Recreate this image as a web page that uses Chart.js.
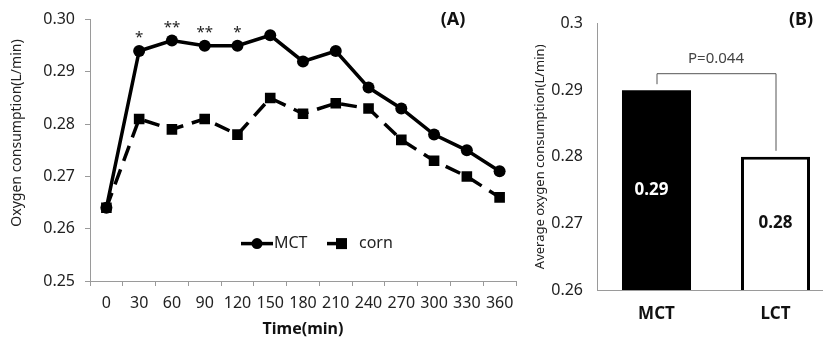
<!DOCTYPE html>
<html>
<head>
<meta charset="utf-8">
<script src="https://cdn.jsdelivr.net/npm/chart.js@4.4.1/dist/chart.umd.min.js"></script>
<style>
  html, body { margin: 0; padding: 0; background: #fff; overflow: hidden; width: 823px; height: 341px; }
  #wrapA { position: absolute; left: 0; top: 0; width: 530px; height: 341px; }
  #wrapB { position: absolute; left: 520px; top: 0; width: 315px; height: 341px; }
</style>
</head>
<body>
<div id="wrapA"><canvas id="chartA"></canvas></div>
<div id="wrapB"><canvas id="chartB"></canvas></div>
<script>
// panel A - time course
const times = ['0', '30', '60', '90', '120', '150', '180', '210', '240', '270', '300', '330', '360'];
const mctValues = [0.264, 0.294, 0.296, 0.295, 0.295, 0.297, 0.292, 0.294, 0.287, 0.283, 0.278, 0.275, 0.271];
const cornValues = [0.264, 0.281, 0.279, 0.281, 0.278, 0.285, 0.282, 0.284, 0.283, 0.277, 0.273, 0.270, 0.266];
const stars = ['', '*', '**', '**', '*', '', '', '', '', '', '', '', ''];

// panel B - averages
const groups = ['MCT', 'LCT'];
const avgValues = [0.29, 0.28];
const pText = 'P=0.044';

const FONT = "'Noto Sans', 'Open Sans', sans-serif";
Chart.defaults.font.family = FONT;
Chart.defaults.color = '#222';
const AXIS = '#9a9a9a';

const extrasA = {
  id: 'extrasA',
  afterDatasetsDraw(chart) {
    const ctx = chart.ctx;
    const ca = chart.chartArea;
    const pts = chart.getDatasetMeta(0).data;
    ctx.save();
    // significance stars
    ctx.fillStyle = '#222';
    ctx.font = '15px ' + FONT;
    ctx.textAlign = 'center';
    ctx.textBaseline = 'middle';
    stars.forEach((s, i) => {
      if (s) ctx.fillText(s, pts[i].x, pts[i].y - 13);
    });

    // legend
    const ly = ca.top + 224;
    const lx = ca.left + 151;
    ctx.strokeStyle = '#000';
    ctx.fillStyle = '#000';
    ctx.lineWidth = 3.5;
    ctx.beginPath(); ctx.moveTo(lx, ly); ctx.lineTo(lx + 32, ly); ctx.stroke();
    ctx.beginPath(); ctx.arc(lx + 16, ly, 5.5, 0, Math.PI * 2); ctx.fill();
    ctx.font = '16px ' + FONT;
    ctx.textAlign = 'left';
    ctx.fillStyle = '#222';
    ctx.fillText('MCT', lx + 33, ly);
    ctx.fillStyle = '#000';
    ctx.beginPath(); ctx.moveTo(lx + 86, ly); ctx.lineTo(lx + 100, ly); ctx.stroke();
    ctx.fillRect(lx + 95, ly - 5.5, 11, 11);
    ctx.fillStyle = '#222';
    ctx.fillText('corn', lx + 118, ly);

    // panel letter
    ctx.font = 'bold 18px ' + FONT;
    ctx.textAlign = 'center';
    ctx.fillStyle = '#111';
    ctx.fillText('(A)', 453, 20);

    // y title
    ctx.translate(17, 133);
    ctx.rotate(-Math.PI / 2);
    ctx.font = '14px ' + FONT;
    ctx.fillStyle = '#222';
    ctx.fillText('Oxygen consumption(L/min)', 0, 0);
    ctx.restore();
  }
};

new Chart(document.getElementById('chartA'), {
  type: 'line',
  data: {
    labels: times,
    datasets: [
      {
        label: 'MCT',
        data: mctValues,
        borderColor: '#000',
        backgroundColor: '#000',
        borderWidth: 3.5,
        pointStyle: 'circle',
        pointRadius: 6,
        pointBackgroundColor: '#000',
        pointBorderWidth: 0,
        tension: 0
      },
      {
        label: 'corn',
        data: cornValues,
        borderColor: '#000',
        backgroundColor: '#000',
        borderWidth: 3.5,
        borderDash: [16, 9],
        pointStyle: 'rect',
        pointRadius: 7.5,
        pointBackgroundColor: '#000',
        pointBorderWidth: 0,
        tension: 0
      }
    ]
  },
  options: {
    responsive: true,
    maintainAspectRatio: false,
    animation: false,
    devicePixelRatio: 1,
    layout: { padding: { left: 0, right: 14, top: 17, bottom: 0 } },
    plugins: { legend: { display: false }, tooltip: { enabled: false } },
    scales: {
      x: {
        offset: true,
        grid: { display: true, drawOnChartArea: false, offset: true, tickLength: 5, color: AXIS },
        border: { color: AXIS },
        ticks: { font: { size: 16 }, padding: 8, maxRotation: 0, autoSkip: false, color: '#222' },
        title: { display: true, text: 'Time(min)', font: { size: 16, weight: 'bold' }, padding: { top: 0, bottom: 2 }, color: '#111' },
        afterFit(scale) { scale.height = 60; }
      },
      y: {
        min: 0.25,
        max: 0.30,
        grid: { display: true, drawOnChartArea: false, tickLength: 5, color: AXIS },
        border: { color: AXIS },
        ticks: { stepSize: 0.01, font: { size: 16 }, padding: 10, color: '#222', callback: v => v.toFixed(2) },
        afterFit(scale) { scale.width = 90; }
      }
    }
  },
  plugins: [extrasA]
});

const extrasB = {
  id: 'extrasB',
  afterDatasetsDraw(chart) {
    const ctx = chart.ctx;
    const bars = chart.getDatasetMeta(0).data;
    const bottom = chart.scales.y.getPixelForValue(chart.scales.y.min);
    ctx.save();
    // values inside bars
    ctx.font = 'bold 17px ' + FONT;
    ctx.textAlign = 'center';
    ctx.textBaseline = 'middle';
    bars.forEach((b, i) => {
      ctx.fillStyle = i === 0 ? '#fff' : '#111';
      ctx.fillText(avgValues[i].toFixed(2), b.x - (i === 0 ? 5 : 0), (b.y + bottom) / 2);
    });

    // significance bracket
    const topY = Math.min(bars[0].y, bars[1].y) - 17;
    ctx.strokeStyle = '#555';
    ctx.lineWidth = 1;
    ctx.beginPath();
    ctx.moveTo(bars[0].x + 0.5, bars[0].y - 6);
    ctx.lineTo(bars[0].x + 0.5, topY + 0.5);
    ctx.lineTo(bars[1].x + 0.5, topY + 0.5);
    ctx.lineTo(bars[1].x + 0.5, bars[1].y - 6);
    ctx.stroke();
    ctx.font = '15px ' + FONT;
    ctx.fillStyle = '#444';
    ctx.fillText(pText, (bars[0].x + bars[1].x) / 2, topY - 14);

    // panel letter
    ctx.font = 'bold 18px ' + FONT;
    ctx.fillStyle = '#111';
    ctx.fillText('(B)', 281, 20);
    ctx.restore();
  }
};

new Chart(document.getElementById('chartB'), {
  type: 'bar',
  data: {
    labels: groups,
    datasets: [{
      data: avgValues,
      backgroundColor: ['#000', '#fff'],
      borderColor: '#000',
      borderWidth: [0, 3],
      borderSkipped: false,
      barPercentage: 0.58,
      categoryPercentage: 1
    }]
  },
  options: {
    responsive: true,
    maintainAspectRatio: false,
    animation: false,
    devicePixelRatio: 1,
    layout: { padding: { left: 0, right: 0, top: 20, bottom: 0 } },
    plugins: { legend: { display: false }, tooltip: { enabled: false } },
    scales: {
      x: {
        grid: { display: true, drawOnChartArea: false, drawTicks: false, color: AXIS },
        border: { color: AXIS },
        ticks: { font: { size: 17, weight: 'bold' }, padding: 14, color: '#111' },
        afterFit(scale) { scale.height = 51; }
      },
      y: {
        min: 0.26,
        max: 0.30,
        grid: { display: true, drawOnChartArea: false, drawTicks: false, color: AXIS },
        border: { color: AXIS },
        ticks: { stepSize: 0.01, font: { size: 16 }, padding: 14, color: '#222', callback: v => String(Math.round(v * 100) / 100) },
        title: { display: true, text: 'Average oxygen consumption(L/min)', font: { size: 13 }, padding: { top: 12, bottom: 0 }, color: '#222' },
        afterFit(scale) { scale.width = 77; }
      }
    }
  },
  plugins: [extrasB]
});
</script>
</body>
</html>
